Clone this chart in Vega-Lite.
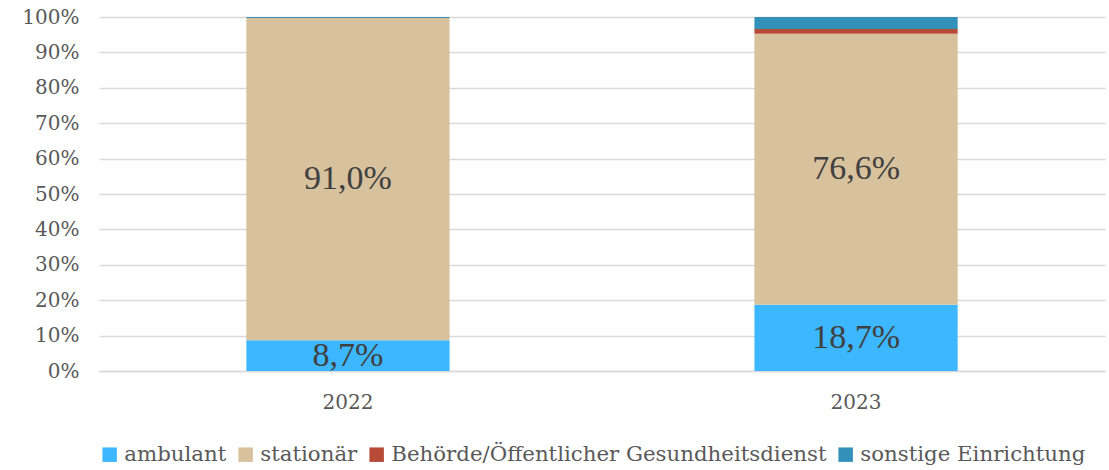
{
  "$schema": "https://vega.github.io/schema/vega-lite/v6.json",
  "width": 1109,
  "height": 470,
  "autosize": {"type": "fit", "contains": "padding"},
  "padding": {"left": 21, "right": 4, "top": 0, "bottom": 5},
  "config": {
    "view": {"stroke": null},
    "font": "DejaVu Serif",
    "locale": {"number": {"decimal": ",", "thousands": ".", "grouping": [3], "currency": ["", " €"]}}
  },
  "data": {
    "values": [
      {"jahr": "2022", "kategorie": "ambulant", "anteil": 0.087},
      {"jahr": "2022", "kategorie": "stationär", "anteil": 0.910},
      {"jahr": "2022", "kategorie": "Behörde/Öffentlicher Gesundheitsdienst", "anteil": 0.0},
      {"jahr": "2022", "kategorie": "sonstige Einrichtung", "anteil": 0.003},
      {"jahr": "2023", "kategorie": "ambulant", "anteil": 0.187},
      {"jahr": "2023", "kategorie": "stationär", "anteil": 0.766},
      {"jahr": "2023", "kategorie": "Behörde/Öffentlicher Gesundheitsdienst", "anteil": 0.013},
      {"jahr": "2023", "kategorie": "sonstige Einrichtung", "anteil": 0.034}
    ]
  },
  "transform": [
    {"calculate": "datum.kategorie == 'ambulant' ? 0 : datum.kategorie == 'stationär' ? 1 : datum.kategorie == 'sonstige Einrichtung' ? 3 : 2", "as": "rang"}
  ],
  "encoding": {
    "x": {
      "field": "jahr", "type": "nominal", "title": null,
      "scale": {"paddingInner": 0.6, "paddingOuter": 0.29},
      "axis": {"labelAngle": 0, "labelFontSize": 20, "labelColor": "#595959", "ticks": false, "domainColor": "#d9d9d9", "domainWidth": 1.5, "labelPadding": 21}
    }
  },
  "resolve": {"axis": {"y": "independent"}},
  "layer": [
    {
      "mark": {"type": "bar"},
      "encoding": {
        "y": {
          "field": "anteil", "type": "quantitative", "stack": "zero", "title": null,
          "scale": {"domain": [0, 1]},
          "axis": {"format": ".0%", "values": [0,0.1,0.2,0.3,0.4,0.5,0.6,0.7,0.8,0.9,1], "labelFontSize": 20, "labelColor": "#595959", "ticks": false, "domain": false, "gridColor": "#d9d9d9", "gridWidth": 1.5, "labelPadding": 20, "labelOverlap": false}
        },
        "color": {
          "field": "kategorie", "type": "nominal", "title": null,
          "sort": ["ambulant", "stationär", "Behörde/Öffentlicher Gesundheitsdienst", "sonstige Einrichtung"],
          "scale": {
            "domain": ["ambulant", "stationär", "Behörde/Öffentlicher Gesundheitsdienst", "sonstige Einrichtung"],
            "range": ["#3db7ff", "#d8c19d", "#b84a38", "#3391b9"]
          },
          "legend": {"orient": "bottom", "direction": "horizontal", "symbolType": "square", "symbolSize": 210, "symbolStrokeWidth": 0, "labelFontSize": 21.3, "labelColor": "#595959", "columnPadding": 8, "symbolOffset": 0, "labelOffset": 4, "offset": 32, "labelLimit": 600}
        },
        "order": {"field": "rang", "type": "quantitative", "sort": "ascending"}
      }
    },
    {
      "mark": {"type": "text", "fontSize": 34, "font": "Liberation Serif", "color": "#404040", "baseline": "middle"},
      "encoding": {
        "y": {"field": "anteil", "type": "quantitative", "stack": "zero", "bandPosition": 0.5, "axis": null},
        "detail": {"field": "kategorie"},
        "order": {"field": "rang", "type": "quantitative", "sort": "ascending"},
        "text": {
          "condition": {"test": "datum.anteil < 0.05", "value": ""},
          "field": "anteil", "type": "quantitative", "format": ".1%"
        }
      }
    }
  ]
}
